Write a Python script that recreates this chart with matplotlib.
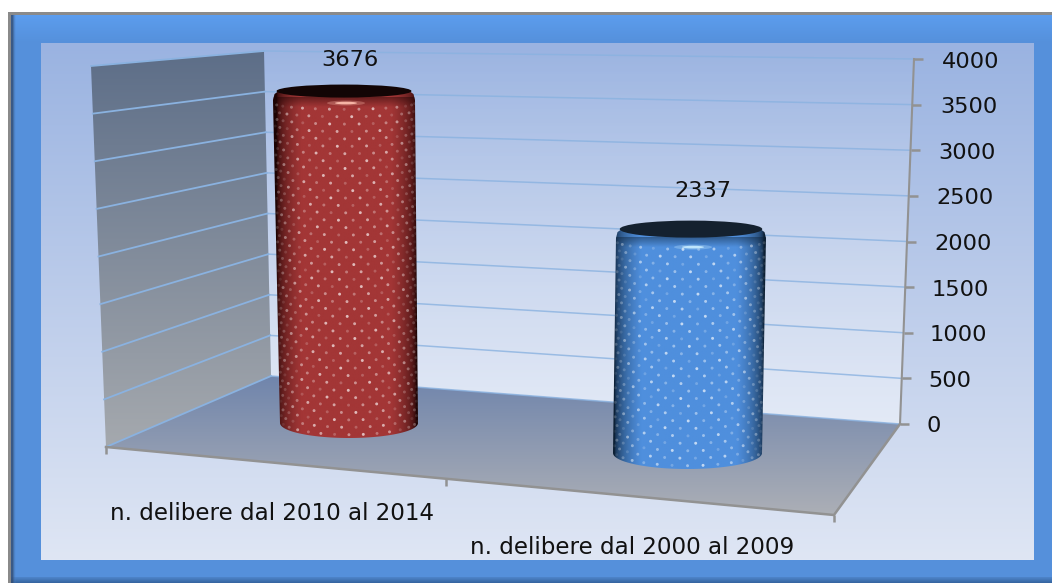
#!/usr/bin/env python3
"""
3D-look cylinder chart: n. delibere per period.
Drawn on one pixel-sized axes, values go through small projection helpers.
"""

import numpy as np
import matplotlib
matplotlib.use("Agg")
import matplotlib.pyplot as plt
from matplotlib.patches import Polygon, Ellipse

# Data
CATEGORIES = ["n. delibere dal 2010 al 2014", "n. delibere dal 2000 al 2009"]
VALUES = [3676, 2337]
Y_TICKS = [0, 500, 1000, 1500, 2000, 2500, 3000, 3500, 4000]

# Geometry of the fake 3D box (pixels)
WIDTH, HEIGHT = 1052, 583
Y_MAX = 4000
WALL_OUT = ((106, 447), (91, 66))     # left wall, outer edge: value 0 / max
CORNER = ((271, 376), (264, 51))      # back corner
RIGHT = ((900, 424), (914, 59))       # back right edge
FLOOR_FRONT = (834, 515)

# One entry per bar: base y, px per unit, bottom left/right, top left/right,
# semi-height of bottom and top ellipse
BAR_GEOM = [
    dict(base=423, scale=0.0903, bl=280, br=418, tl=273, tr=415, eb=15, et=6),
    dict(base=453, scale=0.0958, bl=613, br=762, tl=616, tr=766, eb=16, et=8),
]
BAR_COLORS = [
    dict(mid="#a33636", edge="#1c0303", cap="#120505", gloss="#ffc0b0"),
    dict(mid="#4f8fdd", edge="#0c1f33", cap="#14212f", gloss="#c8ecff"),
]
LABEL_POS = [(350, 60), (703, 191)]
CAT_POS = [(110, 514), (470, 548)]

GRID = "#8ab2e0"
AXIS = "#929292"
TEXT = "#111111"


def project(edge, value):
    """Pixel position of a value along one vertical box edge."""
    (x0, y0), (x1, y1) = edge
    t = value / Y_MAX
    return x0 + (x1 - x0) * t, y0 + (y1 - y0) * t


def hex_rgb(c):
    return np.array(matplotlib.colors.to_rgb(c))


def gradient(ax, box, top, bottom, clip=None, alpha=None, zorder=1):
    """Vertical colour gradient inside box (x0, y0, x1, y1)."""
    x0, y0, x1, y1 = box
    t = np.linspace(0, 1, 256)[:, None, None]
    img = hex_rgb(top) * (1 - t) + hex_rgb(bottom) * t
    if alpha is not None:
        a = alpha[0] * (1 - t) + alpha[1] * t
        img = np.concatenate([img, a], axis=2)
    im = ax.imshow(img, extent=(x0, x1, y1, y0), aspect="auto", zorder=zorder,
                   interpolation="bilinear")
    if clip is not None:
        patch = Polygon(clip, closed=True, transform=ax.transData)
        im.set_clip_path(patch)
    return im


def draw_frame(ax):
    ax.add_patch(Polygon([(8, 12), (WIDTH, 12), (WIDTH, HEIGHT), (8, HEIGHT)],
                         fc="#8a8a8a", ec="none", zorder=0))
    gradient(ax, (11, 15, WIDTH, 43), "#5c9dee", "#5590db", zorder=0.2)
    ax.add_patch(Polygon([(11, 43), (WIDTH, 43), (WIDTH, HEIGHT), (11, HEIGHT)],
                         fc="#5590db", ec="none", zorder=0.2))
    gradient(ax, (11, 577, WIDTH, HEIGHT), "#4f86cb", "#35649f", zorder=0.3)
    ax.imshow(np.array([[[.2, .3, .45, .8], [.33, .56, .86, 0]]]),
              extent=(11, 18, HEIGHT, 15), aspect="auto", zorder=0.35,
              interpolation="bilinear")
    gradient(ax, (41, 43, 1034, 560), "#9ab3e1", "#dfe6f4", zorder=0.5)


def draw_box(ax):
    # back wall
    back = [CORNER[1], RIGHT[1], RIGHT[0], CORNER[0]]
    gradient(ax, (264, 51, 914, 424), "#ffffff", "#ffffff", clip=back,
             alpha=(0.02, 0.45), zorder=1)
    # left wall
    left = [WALL_OUT[1], CORNER[1], CORNER[0], WALL_OUT[0]]
    gradient(ax, (91, 51, 271, 447), "#5d6e88", "#a5a9ae", clip=left, zorder=1)
    # floor
    floor = [WALL_OUT[0], CORNER[0], RIGHT[0], FLOOR_FRONT]
    gradient(ax, (106, 376, 900, 515), "#7085ac", "#acafb6", clip=floor, zorder=1)

    # gridlines run along both walls
    for v in Y_TICKS:
        a, b, c = project(WALL_OUT, v), project(CORNER, v), project(RIGHT, v)
        ax.plot([a[0], b[0]], [a[1], b[1]], color=GRID, lw=1.3, zorder=2)
        ax.plot([b[0], c[0]], [b[1], c[1]], color=GRID, lw=1.1, alpha=0.8, zorder=2)

    # axes and ticks
    ax.plot([RIGHT[0][0], RIGHT[1][0]], [RIGHT[0][1], RIGHT[1][1]], color=AXIS, lw=1.5, zorder=3)
    for v in Y_TICKS:
        x, y = project(RIGHT, v)
        ax.plot([x, x + 9], [y, y], color=AXIS, lw=1.8, zorder=3, solid_capstyle="butt")
        ax.text(x + 26 + 2 * v / Y_MAX, y + 2.5, f"{v}", fontsize=16.2, color=TEXT,
                ha="left", va="center", zorder=6)
    fx, fy = FLOOR_FRONT
    x0, y0 = WALL_OUT[0]
    ax.plot([x0, fx, RIGHT[0][0]], [y0, fy, RIGHT[0][1]], color=AXIS, lw=1.8, zorder=3)
    for frac in (0, 0.467, 1):
        tx, ty = x0 + (fx - x0) * frac, y0 + (fy - y0) * frac
        ax.plot([tx, tx], [ty, ty + 7], color=AXIS, lw=1.8, zorder=3, solid_capstyle="butt")


def draw_bar(ax, value, geom, col):
    base = geom["base"]
    top = base - value * geom["scale"]
    bl, br, tl, tr = geom["bl"], geom["br"], geom["tl"], geom["tr"]
    eb, et = geom["eb"], geom["et"]

    # outline: bottom half-ellipse, sides, rounded shoulders (cap hides the top)
    th = np.linspace(np.pi, 0, 60)
    cxb, rb = (bl + br) / 2, (br - bl) / 2
    bottom_pts = np.c_[cxb + rb * np.cos(th), base + eb * np.sin(th)]
    cxt, rt = (tl + tr) / 2, (tr - tl) / 2
    verts = list(map(tuple, bottom_pts))
    verts += [(tr, top + 9), (tr - 1.5, top + 3), (tr - 7, top - 1),
              (tl + 7, top - 1), (tl + 1.5, top + 3), (tl, top + 9), (bl, base)]
    body = Polygon(verts, closed=True, transform=ax.transData)

    # cylinder shading, dark at the sides
    xs = np.linspace(min(bl, tl), max(br, tr), 256)
    u = np.clip((xs - (cxb + cxt) / 2) / ((rb + rt) / 2), -1, 1)
    k = np.clip(np.sqrt(1 - u ** 2) * 1.3, 0, 1)[None, :, None]
    img = hex_rgb(col["edge"]) * (1 - k) + hex_rgb(col["mid"]) * k
    im = ax.imshow(img, extent=(xs[0], xs[-1], base + eb, top - et), aspect="auto",
                   zorder=4, interpolation="bilinear")
    im.set_clip_path(body)

    # dark shoulder on top of the shading
    shade = np.zeros((64, 2, 4))
    shade[..., :3] = hex_rgb(col["edge"])
    shade[..., 3] = np.linspace(0.45, 0, 64)[:, None]
    im2 = ax.imshow(shade, extent=(xs[0], xs[-1], top + et + 10, top + et), aspect="auto",
                    zorder=4.1, interpolation="bilinear")
    im2.set_clip_path(body)

    # white dot pattern wrapped round the cylinder
    px, py, colors, sizes = [], [], [], []
    y = base + 4
    row = 0
    while y > top + 8:
        t = (base - y) / (base - top)
        r = rb + (rt - rb) * t
        cx = cxb + (cxt - cxb) * t
        bulge = eb + (et - eb) * t
        for th_i in np.arange(-78, 79, 12) + (6 if row % 2 else 0):
            a = np.radians(th_i)
            px.append(cx + r * np.sin(a))
            py.append(y + bulge * np.cos(a))
            bright = 0.22 + 0.45 * ((row * 7 + int(th_i)) % 5) / 4
            colors.append((1, 1, 1, bright * np.cos(a) ** 0.8))
            sizes.append(4.5)
        y -= 7.2
        row += 1
    dots = ax.scatter(px, py, s=sizes, c=colors, linewidths=0, marker="o", zorder=4.2)
    dots.set_clip_path(body)

    # cap and gloss
    ax.add_patch(Ellipse((cxt, top), (tr - tl) * 0.95, 2 * et + 1, fc=col["cap"], ec="none", zorder=4.3))
    gloss_y = top + 3 * et - 6
    ax.add_patch(Ellipse((cxt + 2, gloss_y), 38, 5, fc=col["gloss"], ec="none", alpha=0.3, zorder=4.4))
    ax.add_patch(Ellipse((cxt + 2, gloss_y), 22, 2.6, fc=col["gloss"], ec="none", alpha=0.9, zorder=4.4))
    return top


def create_chart():
    fig = plt.figure(figsize=(WIDTH / 100, HEIGHT / 100), dpi=100, facecolor="white")
    ax = fig.add_axes([0, 0, 1, 1])
    ax.axis("off")

    draw_frame(ax)
    draw_box(ax)
    for value, geom, col, pos in zip(VALUES, BAR_GEOM, BAR_COLORS, LABEL_POS):
        draw_bar(ax, value, geom, col)
        ax.text(pos[0], pos[1], f"{value}", fontsize=16.2, color=TEXT, ha="center",
                va="center", zorder=6)
    for name, pos in zip(CATEGORIES, CAT_POS):
        ax.text(pos[0], pos[1], name, fontsize=16.6, color=TEXT, ha="left",
                va="center", zorder=6)

    ax.set_xlim(0, WIDTH)
    ax.set_ylim(HEIGHT, 0)
    return fig


def main():
    fig = create_chart()
    fig.savefig("out.png", dpi=100, facecolor="white")


if __name__ == "__main__":
    main()
